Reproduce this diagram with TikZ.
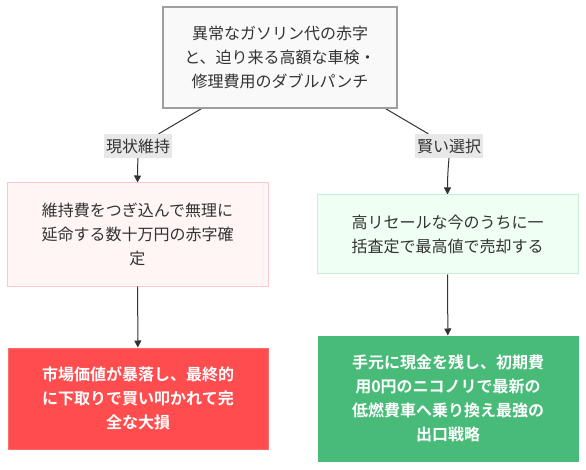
\documentclass[tikz,border=0pt]{standalone}
\usepackage{fontspec}
\newfontfamily\jpfont{Noto Sans CJK JP}[BoldFont={Noto Sans CJK JP Bold}]
\usetikzlibrary{positioning, arrows.meta, backgrounds}
\definecolor{colTop}{HTML}{F9F9F9}
\definecolor{strokeTop}{HTML}{9E9E9E}
\definecolor{colKeep}{HTML}{FFF5F5}
\definecolor{strokeKeep}{HTML}{F8C8CC}
\definecolor{colSell}{HTML}{F0FFF4}
\definecolor{strokeSell}{HTML}{C8EFD4}
\definecolor{colLoss}{HTML}{FF4D4F}
\definecolor{strokeLoss}{HTML}{FF6B6B}
\definecolor{colWin}{HTML}{48BB78}
\definecolor{strokeWin}{HTML}{48BB78}
\definecolor{colLabel}{HTML}{E8E8E8}
\definecolor{colText}{HTML}{333333}

\begin{document}
\begin{tikzpicture}[
		x=1pt, y=-1pt,
		font=\jpfont\fontsize{16}{24}\selectfont,
		% Node Styles
		base/.style={draw, line width=1pt, align=center, inner sep=0pt, text=colText},
		problem/.style={base, fill=colTop, draw=strokeTop, line width=1.5pt},
		keep/.style={base, fill=colKeep, draw=strokeKeep},
		sell/.style={base, fill=colSell, draw=strokeSell},
		loss/.style={base, fill=colLoss, draw=strokeLoss, text=white, font=\jpfont\bfseries\fontsize{16}{24}\selectfont},
		win/.style={base, fill=colWin, draw=strokeWin, text=white, font=\jpfont\bfseries\fontsize{16}{24}\selectfont},
		edgelabel/.style={fill=colLabel, text=colText, inner xsep=2pt, inner ysep=0pt, minimum height=24pt},
		link/.style={line width=1pt, colText},
		arrow/.style={link, -{Triangle[length=7pt, width=7pt]}}
		]
		\useasboundingbox (0,0) rectangle (586,470);
		
		%% ================= TOP =================
		\node[problem, minimum width=234, minimum height=101] (trouble) at (280,57.5) {異常なガソリン代の赤字\\と、迫り来る高額な車検・\\修理費用のダブルパンチ};
		
		%% ================= LEFT: KEEP =================
		\node[keep, minimum width=261, minimum height=103] (keepcar) at (137.5,234.5) {維持費をつぎ込んで無理に\\延命する数十万円の赤字確\\定};
		\node[loss, minimum width=260, minimum height=101] (bigloss) at (138,398.5) {市場価値が暴落し、最終的\\に下取りで買い叩かれて完\\全な大損};
		
		%% ================= RIGHT: SELL =================
		\node[sell, minimum width=261, minimum height=79] (sellcar) at (447.5,234.5) {高リセールな今のうちに一\\括査定で最高値で売却する};
		\node[win, minimum width=260, minimum height=125] (bestexit) at (448,398.5) {手元に現金を残し、初期費\\用0円のニコノリで最新の\\低燃費車へ乗り換え最強の\\出口戦略};
		
		% Edge labels
		\node[edgelabel] (lblkeep) at (138,146) {現状維持};
		\node[edgelabel] (lblsell) at (449,146) {賢い選択};
		
		%% ================= EDGES =================
		\begin{scope}[on background layer]
			\draw[link] ([xshift=39pt]trouble.south west) -- (lblkeep);
			\draw[arrow] (lblkeep) -- (keepcar.north);
			\draw[link] ([xshift=-12pt]trouble.south east) -- (lblsell);
			\draw[arrow] (lblsell.south) to[out=-95, in=90] (sellcar.north);
		\end{scope}
		\draw[arrow] (keepcar) -- (bigloss);
		\draw[arrow] (sellcar) -- (bestexit);
		
	\end{tikzpicture}
\end{document}
